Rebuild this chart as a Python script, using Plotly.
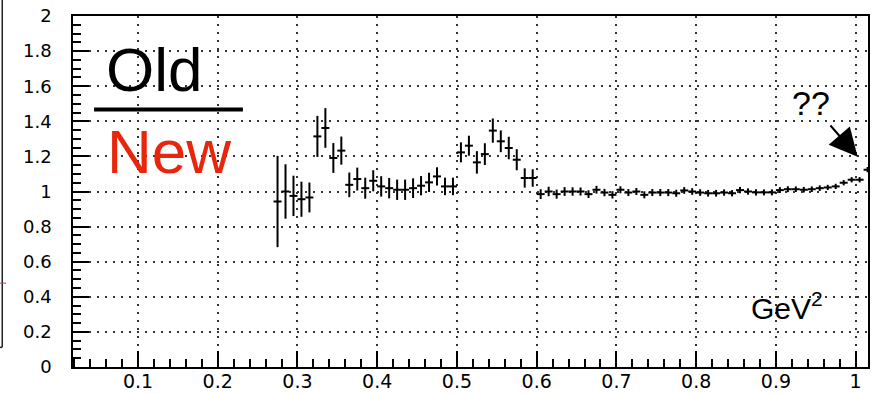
import plotly.graph_objects as go

# ---- data ----
x_vals = [round(0.275 + 0.01 * i, 3) for i in range(75)]
y_vals = [
    0.943, 1.000, 0.975, 0.956, 0.966, 1.314, 1.362, 1.191, 1.233, 1.038,
    1.071, 1.019, 1.061, 1.029, 1.019, 1.010, 1.010, 1.019, 1.033, 1.052,
    1.086, 1.029, 1.029, 1.223, 1.261, 1.166, 1.213, 1.347, 1.286, 1.248,
    1.181, 1.077, 1.077,
    0.985, 1.000, 0.985, 1.000, 1.000, 1.000, 0.985, 1.010, 0.994, 0.981,
    1.010, 0.994, 1.000, 0.981, 0.994, 0.994, 0.994, 0.990, 1.006, 1.000,
    0.994, 0.990, 0.990, 0.994, 0.990, 1.008, 1.000, 0.995, 0.995, 0.995,
    1.008, 1.013, 1.013, 1.010, 1.013, 1.019, 1.023, 1.029, 1.050, 1.067,
    1.067, 1.124,
]
y_err = [
    0.260, 0.155, 0.115, 0.100, 0.085, 0.117, 0.113, 0.085, 0.080, 0.070,
    0.065, 0.060, 0.060, 0.058, 0.058, 0.058, 0.058, 0.056, 0.055, 0.055,
    0.052, 0.050, 0.050, 0.057, 0.057, 0.064, 0.062, 0.069, 0.062, 0.064,
    0.060, 0.055, 0.050,
    0.028, 0.027, 0.026, 0.025, 0.024, 0.023, 0.022, 0.022, 0.021, 0.021,
    0.020, 0.020, 0.020, 0.020, 0.020, 0.020, 0.020, 0.020, 0.019, 0.019,
    0.019, 0.019, 0.019, 0.018, 0.018, 0.018, 0.018, 0.018, 0.017, 0.017,
    0.017, 0.017, 0.016, 0.016, 0.016, 0.016, 0.015, 0.015, 0.015, 0.015,
    0.015, 0.015,
]
x_half_bin = [0.005] * len(x_vals)

x_ticks = [0.1, 0.2, 0.3, 0.4, 0.5, 0.6, 0.7, 0.8, 0.9, 1.0]
x_tick_text = ["0.1", "0.2", "0.3", "0.4", "0.5", "0.6", "0.7", "0.8", "0.9", "1"]
y_ticks = [0, 0.2, 0.4, 0.6, 0.8, 1.0, 1.2, 1.4, 1.6, 1.8, 2.0]
y_tick_text = ["0", "0.2", "0.4", "0.6", "0.8", "1", "1.2", "1.4", "1.6", "1.8", "2"]

fig = go.Figure()
fig.add_trace(go.Scatter(
    x=x_vals, y=y_vals, mode="markers",
    marker=dict(size=1, color="black", opacity=0),
    error_x=dict(type="data", array=x_half_bin, width=0, thickness=2, color="black"),
    error_y=dict(type="data", array=y_err, width=0, thickness=2, color="black"),
    showlegend=False, hoverinfo="skip",
))

grid_style = dict(gridcolor="#333333", gridwidth=1.6, griddash="2px,6px")

fig.update_xaxes(
    range=[0.0185, 1.0155], tickvals=x_ticks, ticktext=x_tick_text,
    ticks="inside", ticklen=16, tickwidth=1.5, tickcolor="black",
    minor=dict(ticks="inside", ticklen=8, dtick=0.02, tick0=0, tickwidth=1.5,
               tickcolor="black", showgrid=False),
    showline=True, linecolor="black", linewidth=1.5, mirror=True,
    showgrid=True, zeroline=False, ticklabelstandoff=-4, automargin=False,
    tickfont=dict(family="DejaVu Sans", size=19, color="black"),
    **grid_style,
)
fig.update_yaxes(
    range=[0, 2], tickvals=y_ticks, ticktext=y_tick_text,
    ticks="inside", ticklen=16, tickwidth=1.5, tickcolor="black",
    minor=dict(ticks="inside", ticklen=8, dtick=0.05, tick0=0, tickwidth=1.5,
               tickcolor="black", showgrid=False),
    showline=True, linecolor="black", linewidth=1.5, mirror=True,
    showgrid=True, zeroline=False, ticklabelstandoff=16, automargin=False,
    tickfont=dict(family="DejaVu Sans", size=18, color="black"),
    **grid_style,
)

red = "#e8260c"
fig.add_annotation(x=0.1207, y=1.485, xref="x", yref="y", text="Old", showarrow=False,
                   font=dict(family="Liberation Sans", size=62, color="black"),
                   xanchor="center", yanchor="bottom")
fig.add_shape(type="line", x0=0.0449, x1=0.2316, y0=1.467, y1=1.467, xref="x", yref="y",
              line=dict(color="black", width=4))
fig.add_annotation(x=0.1395, y=1.23, xref="x", yref="y", text="New", showarrow=False,
                   font=dict(family="Liberation Sans", size=62, color=red),
                   xanchor="center", yanchor="middle")
# "??" with its arrow pointing at the last point region
fig.add_annotation(x=1.0025, y=1.198, xref="x", yref="y", text="??", showarrow=True,
                   ax=-47, ay=-54, arrowhead=2, arrowsize=2.8, arrowwidth=2,
                   arrowcolor="black", standoff=0, startstandoff=3,
                   font=dict(family="Liberation Sans", size=34, color="black"))
fig.add_annotation(x=0.914, y=0.35, xref="x", yref="y", text="GeV<sup>2</sup>",
                   showarrow=False, font=dict(family="Liberation Sans", size=30, color="black"),
                   xanchor="center", yanchor="middle")

# remnant of the neighbouring frame at the far left edge
fig.add_shape(type="line", xref="paper", yref="paper", x0=-0.089, x1=-0.089, y0=0.056, y1=1.06,
              line=dict(color="#222222", width=1.5))
fig.add_shape(type="line", xref="paper", yref="paper", x0=-0.1, x1=-0.089, y0=0.056, y1=0.056,
              line=dict(color="#222222", width=1.5))
fig.add_shape(type="line", xref="paper", yref="paper", x0=-0.1, x1=-0.084, y0=0.239, y1=0.239,
              line=dict(color="#c04040", width=1))

fig.update_layout(
    width=877, height=394,
    margin=dict(l=73, r=9, t=16, b=27),
    paper_bgcolor="white", plot_bgcolor="white",
)

fig.write_html("out.html")
